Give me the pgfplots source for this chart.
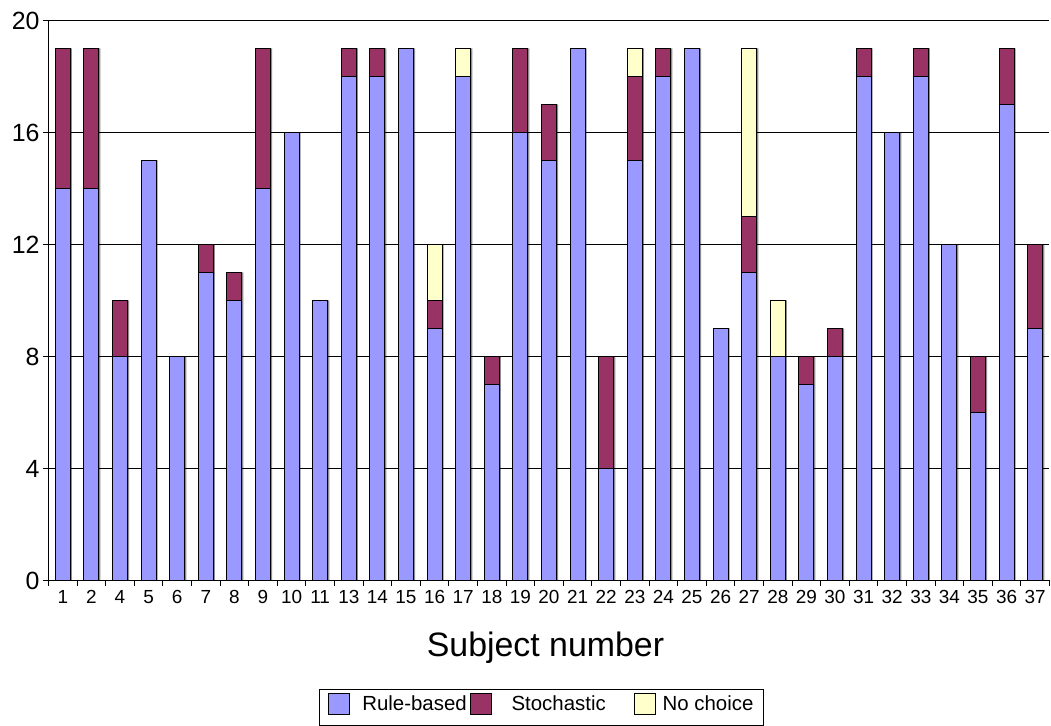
\documentclass[border=0pt]{standalone}
\usepackage{fontspec}
\setmainfont{Liberation Sans}
\usepackage{pgfplots}
\usepackage{pgfplotstable}
\pgfplotsset{compat=1.18}

\definecolor{rulebased}{HTML}{9999FF}
\definecolor{stochastic}{HTML}{993366}
\definecolor{nochoice}{HTML}{FFFFCC}

% choices per subject: rule-based, stochastic, no choice
\pgfplotstableread{
idx subject rule stoch none
0 1 14 5 0
1 2 14 5 0
2 4 8 2 0
3 5 15 0 0
4 6 8 0 0
5 7 11 1 0
6 8 10 1 0
7 9 14 5 0
8 10 16 0 0
9 11 10 0 0
10 13 18 1 0
11 14 18 1 0
12 15 19 0 0
13 16 9 1 2
14 17 18 0 1
15 18 7 1 0
16 19 16 3 0
17 20 15 2 0
18 21 19 0 0
19 22 4 4 0
20 23 15 3 1
21 24 18 1 0
22 25 19 0 0
23 26 9 0 0
24 27 11 2 6
25 28 8 0 2
26 29 7 1 0
27 30 8 1 0
28 31 18 1 0
29 32 16 0 0
30 33 18 1 0
31 34 12 0 0
32 35 6 2 0
33 36 17 2 0
34 37 9 3 0
}\choices

\pgfplotsset{
  chartframe/.style={
    at={(48.5bp,145.5bp)}, anchor=south west,
    scale only axis, width=1001bp, height=560bp,
    xmin=-0.5, xmax=34.5, ymin=0, ymax=20,
  },
}

\begin{document}
\begin{tikzpicture}
\useasboundingbox (0,0) rectangle (1051bp,726bp);
% soft shadow to the right of each column
\begin{axis}[chartframe, hide axis, ybar, bar width=15bp, bar shift=1.6bp]
\addplot[fill=black!45, draw=none]
  table[x=idx, y expr=\thisrow{rule}+\thisrow{stoch}+\thisrow{none}] {\choices};
\end{axis}
\begin{axis}[
  chartframe,
  ybar stacked, bar width=15bp,
  axis x line*=bottom, axis y line*=left,
  axis line style={black, line width=0.9bp},
  ytick={0,4,...,20},
  ymajorgrids, grid style={black, line width=0.8bp},
  xtick={0,...,34},
  xticklabels from table={\choices}{subject},
  minor xtick={-0.5,0.5,...,34.5},
  tick align=outside, major tick length=5.5bp, minor tick length=5.5bp,
  tick style={black, line width=0.9bp},
  major x tick style={draw=none},
  /pgf/number format/assume math mode=true,
  xticklabel style={font=\fontsize{19}{19}\selectfont, yshift=-1bp},
  yticklabel style={font=\fontsize{25}{25}\selectfont},
  xlabel={Subject number},
  xlabel style={font=\fontsize{34}{34}\selectfont,
    at={(axis description cs:0.4965,-0.1366)}, anchor=base},
  every axis plot/.append style={draw=black, line width=0.8bp},
  legend columns=3,
  legend image code/.code={%
    \draw[#1, draw=black, line width=0.8bp] (0bp,-10.5bp) rectangle (21bp,10.5bp);
    \path (0bp,-17bp);},
  legend style={
    at={(axis description cs:0.4925,-0.1937)}, anchor=north,
    draw=black, line width=0.8bp,
    font=\fontsize{20.5}{20.5}\selectfont,
    inner xsep=8bp, inner ysep=4bp,
    nodes={inner sep=2bp},
    /tikz/column 1/.style={column sep=11bp},
    /tikz/column 2/.style={column sep=1bp},
    /tikz/column 3/.style={column sep=18bp},
    /tikz/column 4/.style={column sep=26bp},
    /tikz/column 5/.style={column sep=5bp},
  },
]
\addplot[fill=rulebased] table[x=idx, y=rule] {\choices};
\addplot[fill=stochastic] table[x=idx, y=stoch] {\choices};
\addplot[fill=nochoice] table[x=idx, y=none] {\choices};
\legend{Rule-based, Stochastic, No choice}
\end{axis}
\end{tikzpicture}
\end{document}
